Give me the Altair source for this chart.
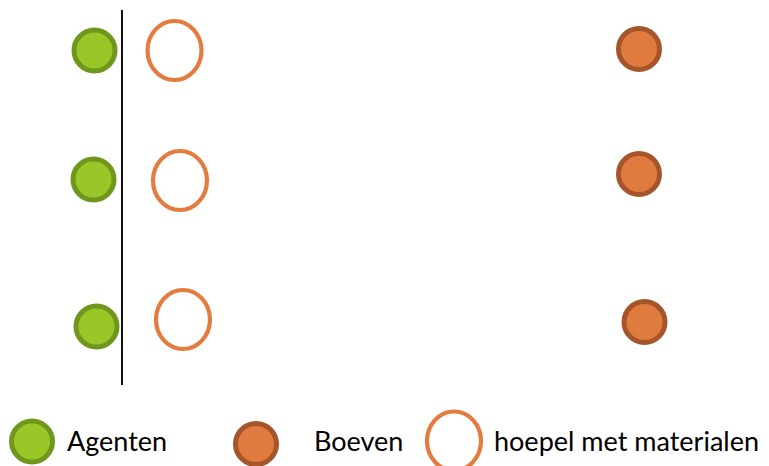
import altair as alt
import pandas as pd

# Diagram positions (in picture coordinates)
agent_x = [94.5, 93.5, 96.5, 32]
agent_y = [50.5, 179.5, 326.5, 441.5]
boef_x = [639, 639, 644.5, 256]
boef_y = [49, 174, 322, 444]
hoop_x = [174.5, 180, 183, 454]
hoop_y = [50.5, 180.5, 319.5, 441]
line_x = [122]
line_y1 = [10]
line_y2 = [385]
legend_labels = ["Agenten", "Boeven", "hoepel met materialen"]
legend_text_x = [67, 314, 494]
legend_text_y = [451, 451, 451]

xs = alt.Scale(domain=[8, 761])
ys = alt.Scale(domain=[8, 466], reverse=True)
X = lambda f: alt.X(f, type="quantitative", scale=xs, axis=None)
Y = lambda f: alt.Y(f, type="quantitative", scale=ys, axis=None)

agents = pd.DataFrame({"x": agent_x, "y": agent_y})
boeven = pd.DataFrame({"x": boef_x, "y": boef_y})
hoops = pd.DataFrame({"x": hoop_x, "y": hoop_y})
line = pd.DataFrame({"x": line_x, "y": line_y1, "y2": line_y2})
legend = pd.DataFrame({"label": legend_labels, "x": legend_text_x, "y": legend_text_y})

rule = alt.Chart(line).mark_rule(color="#111111", strokeWidth=2).encode(
    x=X("x"), y=Y("y"), y2="y2"
)

agent_layer = alt.Chart(agents).mark_point(
    shape="circle", filled=True, fill="#9bc627", stroke="#6f961d",
    strokeWidth=5, size=1681, opacity=1
).encode(x=X("x"), y=Y("y"))

boef_layer = alt.Chart(boeven).mark_point(
    shape="circle", filled=True, fill="#e07b40", stroke="#a6552a",
    strokeWidth=5, size=1681, opacity=1
).encode(x=X("x"), y=Y("y"))

ellipse = "M0,-1 A0.915,1 0 1,1 0,1 A0.915,1 0 1,1 0,-1 Z"
hoop_layer = alt.Chart(hoops).mark_point(
    shape=ellipse, filled=False, stroke="#e47c3f", strokeWidth=4.2,
    size=3481, opacity=1
).encode(x=X("x"), y=Y("y"))

text_layer = alt.Chart(legend).mark_text(
    align="left", baseline="alphabetic", font="Lato", fontSize=27, color="#000000"
).encode(x=X("x"), y=Y("y"), text="label:N")

chart = alt.layer(rule, agent_layer, boef_layer, hoop_layer, text_layer).properties(
    width=753, height=458, autosize=alt.AutoSizeParams(type="none"), padding=0
).configure_view(stroke=None)

chart.save("out.html", embed_options={"renderer": "svg", "actions": False})
